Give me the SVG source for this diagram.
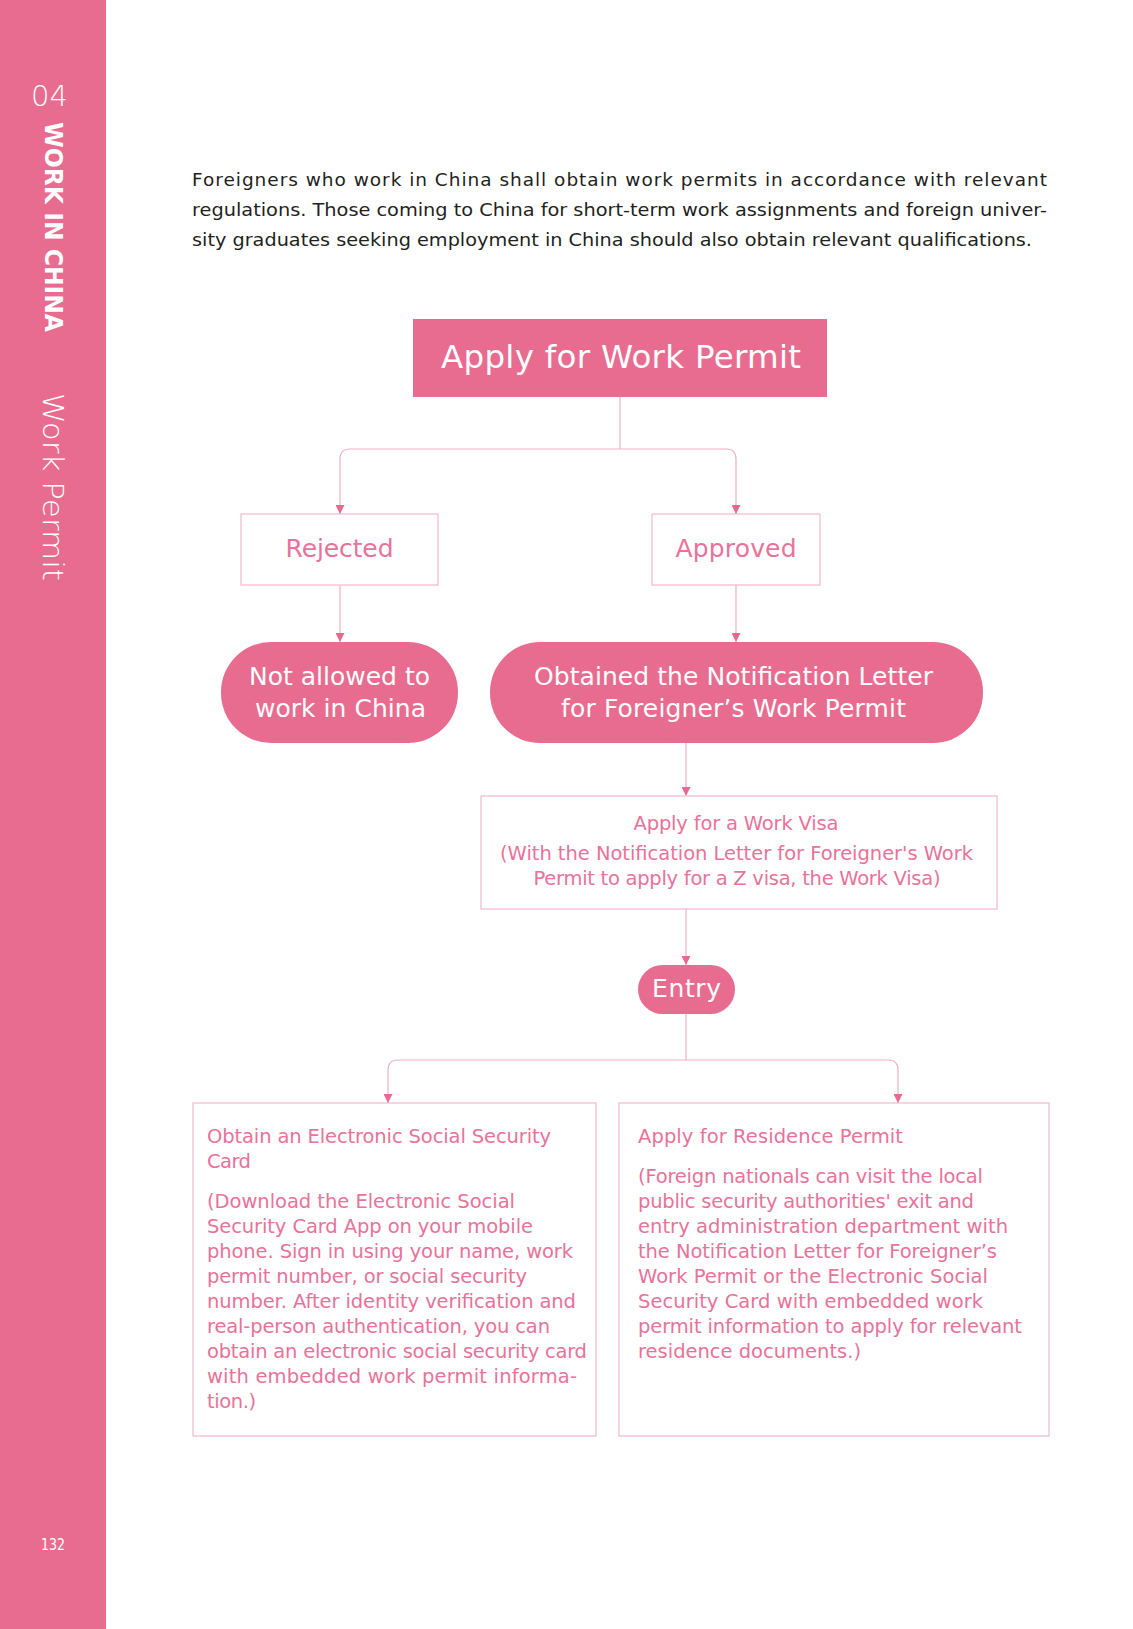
<svg xmlns="http://www.w3.org/2000/svg" width="1133" height="1629" viewBox="0 0 1133 1629">
<style>
.side{fill:#FFFFFF;font-family:"DejaVu Sans","Liberation Sans",sans-serif}
.para{fill:#231F20;font-family:"DejaVu Sans","Liberation Sans",sans-serif;font-size:18.5px}
.solid{fill:#E86C90}
.outline{fill:#FFFFFF;stroke:#F2B9CB;stroke-width:1.2}
.wt{fill:#FFFFFF;font-family:"DejaVu Sans","Liberation Sans",sans-serif;text-anchor:middle}
.pt{fill:#E8729A;font-family:"DejaVu Sans","Liberation Sans",sans-serif}
.mid{text-anchor:middle}
.conn{fill:none;stroke:#F0B0C5;stroke-width:1.2}
</style>
<defs>
<marker id="arr" viewBox="0 0 10 10" refX="10" refY="5" markerWidth="9" markerHeight="9" markerUnits="userSpaceOnUse" orient="auto">
<path d="M0,0 L10,5 L0,10 z" fill="#E8698E"/>
</marker>
</defs>
<rect width="1133" height="1629" fill="#FFFFFF"/>
<g id="sidebar">
<rect x="0" y="0" width="106" height="1629" fill="#E86C8F"/>
<text class="side" x="31" y="106" font-size="29" font-weight="300">04</text>
<text class="side" transform="translate(45,122) rotate(90)" font-size="25" font-weight="bold" textLength="210" lengthAdjust="spacingAndGlyphs">WORK IN CHINA</text>
<text class="side" transform="translate(43,393) rotate(90)" font-size="28" font-weight="300" textLength="188" lengthAdjust="spacingAndGlyphs">Work Permit</text>
<text class="side" x="41" y="1550" font-size="16.5" textLength="24" lengthAdjust="spacingAndGlyphs">132</text>
</g>
<g id="intro">
<text class="para" x="192" y="186" textLength="855" lengthAdjust="spacing">Foreigners who work in China shall obtain work permits in accordance with relevant</text>
<text class="para" x="192" y="216" textLength="855" lengthAdjust="spacingAndGlyphs">regulations. Those coming to China for short-term work assignments and foreign univer-</text>
<text class="para" x="192" y="246" textLength="840" lengthAdjust="spacingAndGlyphs">sity graduates seeking employment in China should also obtain relevant qualifications.</text>
</g>
<g id="connectors">
<path class="conn" d="M620,397 V449"/>
<path class="conn" d="M620,449 H350 Q340,449 340,459 V514" marker-end="url(#arr)"/>
<path class="conn" d="M620,449 H726 Q736,449 736,459 V514" marker-end="url(#arr)"/>
<path class="conn" d="M340,585 V642" marker-end="url(#arr)"/>
<path class="conn" d="M736,585 V642" marker-end="url(#arr)"/>
<path class="conn" d="M686,743 V796" marker-end="url(#arr)"/>
<path class="conn" d="M686,909 V965" marker-end="url(#arr)"/>
<path class="conn" d="M686,1014 V1060"/>
<path class="conn" d="M686,1060 H398 Q388,1060 388,1070 V1103" marker-end="url(#arr)"/>
<path class="conn" d="M686,1060 H888 Q898,1060 898,1070 V1103" marker-end="url(#arr)"/>
</g>
<g id="apply">
<rect class="solid" x="413" y="319" width="414" height="78"/>
<text class="wt" x="621" y="368" font-size="32.5" textLength="360" lengthAdjust="spacing">Apply for Work Permit</text>
</g>
<g id="rejected">
<rect class="outline" x="241" y="514" width="197" height="71"/>
<text class="pt mid" x="339.5" y="557" font-size="25" textLength="108" lengthAdjust="spacing">Rejected</text>
</g>
<g id="approved">
<rect class="outline" x="652" y="514" width="168" height="71"/>
<text class="pt mid" x="736" y="557" font-size="25" textLength="121" lengthAdjust="spacing">Approved</text>
</g>
<g id="not-allowed">
<rect class="solid" x="221" y="642" width="237" height="101" rx="50" ry="50"/>
<text class="wt" x="339.5" y="685" font-size="25" textLength="181" lengthAdjust="spacing">Not allowed to</text>
<text class="wt" x="340.5" y="717" font-size="25" textLength="171" lengthAdjust="spacing">work in China</text>
</g>
<g id="obtained">
<rect class="solid" x="490" y="642" width="493" height="101" rx="50" ry="50"/>
<text class="wt" x="733.5" y="685" font-size="25" textLength="399" lengthAdjust="spacing">Obtained the Notification Letter</text>
<text class="wt" x="733.5" y="717" font-size="25" textLength="345" lengthAdjust="spacing">for Foreigner’s Work Permit</text>
</g>
<g id="visa">
<rect class="outline" x="481" y="796" width="516" height="113"/>
<text class="pt mid" x="736" y="830" font-size="19.5" textLength="205" lengthAdjust="spacing">Apply for a Work Visa</text>
<text class="pt mid" x="736.5" y="860" font-size="19.5" textLength="473" lengthAdjust="spacing">(With the Notification Letter for Foreigner's Work</text>
<text class="pt mid" x="737" y="885" font-size="19.5" textLength="407" lengthAdjust="spacing">Permit to apply for a Z visa, the Work Visa)</text>
</g>
<g id="entry">
<rect class="solid" x="638" y="965" width="97" height="49" rx="24.5" ry="24.5"/>
<text class="wt" x="686.5" y="997" font-size="25" textLength="69" lengthAdjust="spacing">Entry</text>
</g>
<g id="social-security">
<rect class="outline" x="193" y="1103" width="403" height="333"/>
<text class="pt" font-size="19.5">
<tspan x="207" y="1143" textLength="344" lengthAdjust="spacing">Obtain an Electronic Social Security</tspan>
<tspan x="207" y="1168" textLength="44" lengthAdjust="spacing">Card</tspan>
</text>
<text class="pt" font-size="19.5">
<tspan x="207" y="1208" textLength="308" lengthAdjust="spacing">(Download the Electronic Social</tspan>
<tspan x="207" y="1233" textLength="326" lengthAdjust="spacing">Security Card App on your mobile</tspan>
<tspan x="207" y="1258" textLength="366" lengthAdjust="spacing">phone. Sign in using your name, work</tspan>
<tspan x="207" y="1283" textLength="320" lengthAdjust="spacing">permit number, or social security</tspan>
<tspan x="207" y="1308" textLength="369" lengthAdjust="spacing">number. After identity verification and</tspan>
<tspan x="207" y="1333" textLength="343" lengthAdjust="spacing">real-person authentication, you can</tspan>
<tspan x="207" y="1358" textLength="380" lengthAdjust="spacing">obtain an electronic social security card</tspan>
<tspan x="207" y="1383" textLength="370" lengthAdjust="spacing">with embedded work permit informa-</tspan>
<tspan x="207" y="1408" textLength="49" lengthAdjust="spacing">tion.)</tspan>
</text>
</g>
<g id="residence">
<rect class="outline" x="619" y="1103" width="430" height="333"/>
<text class="pt" x="638" y="1143" font-size="19.5" textLength="265" lengthAdjust="spacing">Apply for Residence Permit</text>
<text class="pt" font-size="19.5">
<tspan x="638" y="1183" textLength="345" lengthAdjust="spacing">(Foreign nationals can visit the local</tspan>
<tspan x="638" y="1208" textLength="336" lengthAdjust="spacing">public security authorities' exit and</tspan>
<tspan x="638" y="1233" textLength="370" lengthAdjust="spacing">entry administration department with</tspan>
<tspan x="638" y="1258" textLength="359" lengthAdjust="spacing">the Notification Letter for Foreigner’s</tspan>
<tspan x="638" y="1283" textLength="350" lengthAdjust="spacing">Work Permit or the Electronic Social</tspan>
<tspan x="638" y="1308" textLength="345" lengthAdjust="spacing">Security Card with embedded work</tspan>
<tspan x="638" y="1333" textLength="384" lengthAdjust="spacing">permit information to apply for relevant</tspan>
<tspan x="638" y="1358" textLength="223" lengthAdjust="spacing">residence documents.)</tspan>
</text>
</g>
</svg>
